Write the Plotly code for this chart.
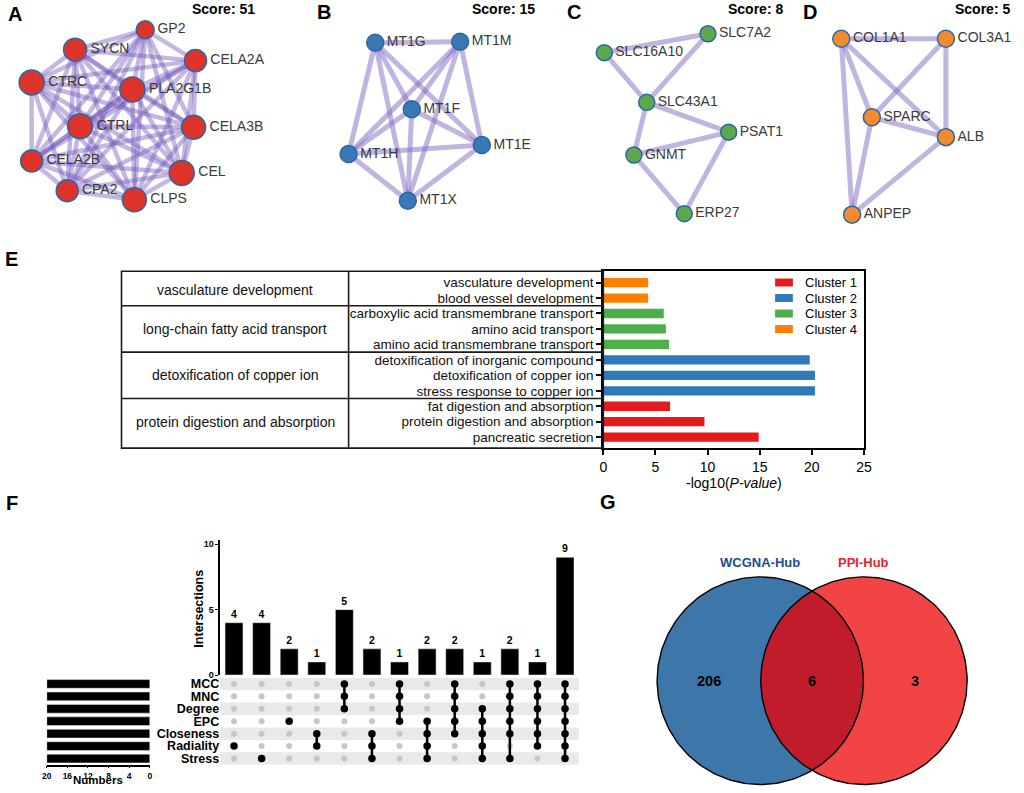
import itertools
import numpy as np
import plotly.graph_objects as go

W, H = 1024, 793
FONT = "Liberation Sans, Arial, Helvetica, sans-serif"


def px(x):
    return x / W


def py(y):
    return 1 - y / H


# ---------------- Panel A-D : PPI modules ----------------
A_genes = ["GP2", "SYCN", "CELA2A", "CTRC", "PLA2G1B", "CTRL", "CELA3B", "CELA2B", "CEL", "CPA2", "CLPS"]
A_x = [142, 71, 193, 27, 129, 76, 191, 27, 179, 63, 131]
A_y = [30, 50, 61, 83, 90, 127, 128, 162, 174, 192, 201]
A_size = [18, 23, 22, 25, 25, 25, 24, 22, 25, 22, 24]
A_edges = list(itertools.combinations(A_genes, 2))

B_genes = ["MT1G", "MT1M", "MT1F", "MT1E", "MT1H", "MT1X"]
B_x = [375, 461, 412, 483, 348, 408]
B_y = [43, 42, 110, 146, 155, 202]
B_size = [17] * 6
B_edges = list(itertools.combinations(B_genes, 2))

C_genes = ["SLC16A10", "SLC7A2", "SLC43A1", "PSAT1", "GNMT", "ERP27"]
C_x = [607, 712, 650, 733, 637, 688]
C_y = [53, 34, 103, 133, 156, 215]
C_size = [16] * 6
C_edges = [("SLC16A10", "SLC7A2"), ("SLC16A10", "SLC43A1"), ("SLC7A2", "SLC43A1"),
           ("SLC43A1", "PSAT1"), ("SLC43A1", "GNMT"), ("GNMT", "PSAT1"),
           ("GNMT", "ERP27"), ("PSAT1", "ERP27")]

D_genes = ["COL1A1", "COL3A1", "SPARC", "ALB", "ANPEP"]
D_x = [847, 953, 878, 953, 858]
D_y = [39, 39, 118, 138, 216]
D_size = [17] * 5
D_edges = [("COL1A1", "COL3A1"), ("COL1A1", "SPARC"), ("COL1A1", "ALB"), ("COL1A1", "ANPEP"),
           ("COL3A1", "SPARC"), ("COL3A1", "ALB"), ("SPARC", "ALB"), ("SPARC", "ANPEP"),
           ("ALB", "ANPEP")]

module_scores = [51, 15, 8, 5]
module_colors = ["#de3328", "#3a78b5", "#5ca84c", "#f28a2e"]

# ---------------- Panel E : enrichment ----------------
terms = ["vasculature development", "blood vessel development",
         "carboxylic acid transmembrane transport", "amino acid transport",
         "amino acid transmembrane transport", "detoxification of inorganic compound",
         "detoxification of copper ion", "stress response to copper ion",
         "fat digestion and absorption", "protein digestion and absorption",
         "pancreatic secretion"]
neglog10p = [4.3, 4.3, 5.8, 6.0, 6.3, 19.8, 20.3, 20.3, 6.4, 9.7, 14.9]
term_cluster = [4, 4, 3, 3, 3, 2, 2, 2, 1, 1, 1]
cluster_names = ["Cluster 1", "Cluster 2", "Cluster 3", "Cluster 4"]
cluster_terms = ["protein digestion and absorption", "detoxification of copper ion",
                 "long-chain fatty acid transport", "vasculature development"]
cluster_colors = ["#e41a1c", "#2f7ab8", "#4daf4a", "#ff7f00"]
x_ticks_E = [0, 5, 10, 15, 20, 25]

# ---------------- Panel F : UpSet ----------------
sets = ["MCC", "MNC", "Degree", "EPC", "Closeness", "Radiality", "Stress"]
set_sizes = [20, 20, 20, 20, 20, 20, 20]
inter_counts = [4, 4, 2, 1, 5, 2, 1, 2, 2, 1, 2, 1, 9]
inter_members = [
    ["Radiality"], ["Stress"], ["EPC"], ["Closeness", "Radiality"],
    ["MCC", "MNC", "Degree"], ["Closeness", "Radiality", "Stress"],
    ["MCC", "MNC", "Degree", "EPC"], ["EPC", "Closeness", "Radiality", "Stress"],
    ["MCC", "MNC", "Degree", "EPC", "Closeness"],
    ["Degree", "EPC", "Closeness", "Radiality", "Stress"],
    ["MCC", "MNC", "Degree", "EPC", "Closeness", "Stress"],
    ["MCC", "MNC", "Degree", "EPC", "Closeness", "Radiality"],
    ["MCC", "MNC", "Degree", "EPC", "Closeness", "Radiality", "Stress"],
]
inter_ticks = [0, 5, 10]
size_ticks = [20, 16, 12, 8, 4, 0]

# ---------------- Panel G : Venn ----------------
venn_names = ["WCGNA-Hub", "PPI-Hub"]
venn_name_colors = ["#1c4c94", "#e8232b"]
venn_only = [206, 3]
venn_both = 6

fig = go.Figure()

EDGE_A = "rgba(115, 85, 185, 0.42)"
EDGE_B = "rgba(130, 105, 195, 0.5)"
NODE_LINE = "#2a67a3"


def add_network(genes, xs, ys, sizes, edges, color, edge_color, edge_w):
    idx = {g: i for i, g in enumerate(genes)}
    for a, b in edges:
        i, j = idx[a], idx[b]
        fig.add_trace(go.Scatter(x=[xs[i], xs[j]], y=[ys[i], ys[j]], mode="lines",
                                 line=dict(color=edge_color, width=edge_w),
                                 hoverinfo="skip", showlegend=False, xaxis="x", yaxis="y"))
    fig.add_trace(go.Scatter(x=xs, y=ys, mode="markers+text", text=genes,
                             textposition="middle right",
                             textfont=dict(family=FONT, size=14, color="#3a3a3a"),
                             marker=dict(size=sizes, color=color, opacity=1,
                                         line=dict(color=NODE_LINE, width=1.5)),
                             hoverinfo="skip", showlegend=False, xaxis="x", yaxis="y"))


add_network(A_genes, A_x, A_y, A_size, A_edges, module_colors[0], EDGE_A, 4.5)
add_network(B_genes, B_x, B_y, B_size, B_edges, module_colors[1], EDGE_B, 5)
add_network(C_genes, C_x, C_y, C_size, C_edges, module_colors[2], EDGE_B, 5)
add_network(D_genes, D_x, D_y, D_size, D_edges, module_colors[3], EDGE_B, 5)

# ---- Panel E bars
cat_order = terms[::-1]
for c in range(1, 5):
    ys = [t for t, k in zip(terms, term_cluster) if k == c]
    xs = [v for v, k in zip(neglog10p, term_cluster) if k == c]
    fig.add_trace(go.Bar(x=xs, y=ys, orientation="h", width=0.6,
                         marker=dict(color=cluster_colors[c - 1], line=dict(width=0)),
                         name=cluster_names[c - 1], showlegend=False, hoverinfo="skip",
                         xaxis="x2", yaxis="y2"))

# ---- Panel F
col_idx = list(range(len(inter_counts)))
fig.add_trace(go.Bar(x=col_idx, y=inter_counts, width=0.65, marker=dict(color="black"),
                     texttemplate="<b>%{y}</b>", textposition="outside",
                     textfont=dict(family=FONT, size=10.5, color="black"), cliponaxis=False,
                     showlegend=False, hoverinfo="skip", xaxis="x3", yaxis="y3"))

set_pos = {s: i for i, s in enumerate(sets)}
gx, gy, bx, by = [], [], [], []
for k, mem in enumerate(inter_members):
    for s in sets:
        if s in mem:
            bx.append(k)
            by.append(set_pos[s])
        else:
            gx.append(k)
            gy.append(set_pos[s])
fig.add_trace(go.Scatter(x=gx, y=gy, mode="markers",
                         marker=dict(size=6, color="#c6c6c6", opacity=1),
                         hoverinfo="skip", showlegend=False, xaxis="x4", yaxis="y4"))
for k, mem in enumerate(inter_members):
    rows = sorted(set_pos[m] for m in mem)
    if len(rows) > 1:
        fig.add_trace(go.Scatter(x=[k, k], y=[rows[0], rows[-1]], mode="lines",
                                 line=dict(color="black", width=2.5), hoverinfo="skip",
                                 showlegend=False, xaxis="x4", yaxis="y4"))
fig.add_trace(go.Scatter(x=bx, y=by, mode="markers",
                         marker=dict(size=7.5, color="black", opacity=1),
                         hoverinfo="skip", showlegend=False, xaxis="x4", yaxis="y4"))

fig.add_trace(go.Bar(x=set_sizes, y=list(range(len(sets))), orientation="h", width=0.7,
                     marker=dict(color="black"), hoverinfo="skip", showlegend=False,
                     xaxis="x5", yaxis="y5"))

# ---- Panel G (Venn geometry in canvas pixel units)
c1 = (765.0, 685.0)
c2 = (870.0, 685.0)
R = 104.5
t = np.linspace(0, 2 * np.pi, 241)
for (cx, cy), col in zip([c1, c2], ["#3d77aa", "#f24444"]):
    fig.add_trace(go.Scatter(x=cx + R * np.cos(t), y=cy + R * np.sin(t), mode="lines",
                             fill="toself", fillcolor=col, line=dict(width=0, color=col),
                             hoverinfo="skip", showlegend=False, xaxis="x", yaxis="y"))
d = c2[0] - c1[0]
th0 = np.arccos((d / 2) / R)
ta = np.linspace(-th0, th0, 80)
tb = np.linspace(np.pi - th0, np.pi + th0, 80)
lens_x = np.concatenate([c1[0] + R * np.cos(ta), c2[0] + R * np.cos(tb)])
lens_y = np.concatenate([c1[1] + R * np.sin(ta), c2[1] + R * np.sin(tb)])
fig.add_trace(go.Scatter(x=lens_x, y=lens_y, mode="lines", fill="toself", fillcolor="#c11c2b",
                         line=dict(width=0, color="#c11c2b"), hoverinfo="skip",
                         showlegend=False, xaxis="x", yaxis="y"))
for (cx, cy) in [c1, c2]:
    fig.add_trace(go.Scatter(x=cx + R * np.cos(t), y=cy + R * np.sin(t), mode="lines",
                             line=dict(width=1.4, color="black"), hoverinfo="skip",
                             showlegend=False, xaxis="x", yaxis="y"))

annotations = []
shapes = []


def ann(x, y, text, size, xanchor="center", yanchor="middle", color="black", **kw):
    annotations.append(dict(x=px(x), y=py(y), xref="paper", yref="paper", text=text,
                            showarrow=False, xanchor=xanchor, yanchor=yanchor,
                            font=dict(family=FONT, size=size, color=color), **kw))


# panel letters
for letter, (lx, ly) in zip("ABCDEFG", [(10, 14), (323, 12), (576, 12), (815, 12),
                                       (7, 261), (7, 506), (611, 505)]):
    ann(lx, ly, f"<b>{letter}</b>", 20)

# scores
for sc, rx in zip(module_scores, [255, 539, 790, 1020]):
    ann(rx, 9, f"<b>Score: {sc}</b>", 14, xanchor="right")

# Panel E table
TL, TM, TR = 118, 348, 606
shapes.append(dict(type="rect", xref="paper", yref="y2 domain", x0=px(TL), x1=px(TR), y0=0, y1=1,
                   line=dict(color="#1a1a1a", width=1.6), layer="above"))
shapes.append(dict(type="line", xref="paper", yref="y2 domain", x0=px(TM), x1=px(TM), y0=0, y1=1,
                   line=dict(color="#1a1a1a", width=1.6), layer="above"))
clusters_in_order = [term_cluster[terms.index(c)] for c in cat_order]
for k in range(len(cat_order) - 1):
    if clusters_in_order[k] != clusters_in_order[k + 1]:
        shapes.append(dict(type="line", xref="paper", yref="y2", x0=px(TL), x1=px(TR),
                           y0=k + 0.5, y1=k + 0.5, line=dict(color="#1a1a1a", width=1.6),
                           layer="above"))
for c in range(1, 5):
    ids = [i for i, cc in enumerate(clusters_in_order) if cc == c]
    annotations.append(dict(x=px((TL + TM) / 2), y=float(np.mean(ids)), xref="paper", yref="y2",
                            text=cluster_terms[c - 1], showarrow=False, xanchor="center",
                            yanchor="middle", font=dict(family=FONT, size=14, color="#111")))

# Panel E legend
for i, (nm, col) in enumerate(zip(cluster_names, cluster_colors)):
    yy = 284.3 + i * 15.6
    shapes.append(dict(type="rect", xref="paper", yref="paper", x0=px(780), x1=px(798),
                       y0=py(yy + 4), y1=py(yy - 4), fillcolor=col, line=dict(width=0)))
    ann(808, yy, nm, 13, xanchor="left")

ann(738, 486, "-log10(<i>P-value</i>)", 14)

# Panel F labels
ann(197, 612, "<b>Intersections</b>", 12.5, textangle=-90)
ann(94, 793, "<b>Numbers</b>", 11.5, yanchor="bottom")
for i in range(len(sets)):
    if i % 2 == 0:
        shapes.append(dict(type="rect", xref="x4 domain", yref="y4", x0=0, x1=1,
                           y0=i - 0.5, y1=i + 0.5, fillcolor="#e9e9e9", line=dict(width=0),
                           layer="below"))

# Panel G labels
for (cx, cy), nm, col in zip([c1, c2], venn_names, venn_name_colors):
    ann(cx, cy - R - 14, f"<b>{nm}</b>", 13, color=col)
ann((c1[0] - R + c2[0] - R) / 2, c1[1], f"<b>{venn_only[0]}</b>", 14.5)
ann((c1[0] + c2[0]) / 2, c1[1], f"<b>{venn_both}</b>", 14.5)
ann((c1[0] + R + c2[0] + R) / 2, c1[1], f"<b>{venn_only[1]}</b>", 14.5)

fig.update_layout(
    width=W, height=H, autosize=False, margin=dict(l=0, r=0, t=0, b=0),
    paper_bgcolor="white", plot_bgcolor="rgba(0,0,0,0)", showlegend=False,
    barmode="overlay", font=dict(family=FONT, color="black"),
    annotations=annotations, shapes=shapes,
    xaxis=dict(domain=[0, 1], range=[0, W], visible=False, fixedrange=True),
    yaxis=dict(domain=[0, 1], range=[H, 0], visible=False, fixedrange=True),
    xaxis2=dict(domain=[px(606), px(870)], range=[0, 25], anchor="y2", showgrid=False,
                zeroline=False, showline=True, mirror=True, linewidth=2, linecolor="black",
                ticks="outside", ticklen=5, tickwidth=1.5, tickcolor="black",
                tickvals=x_ticks_E, tickfont=dict(family=FONT, size=14, color="black")),
    yaxis2=dict(domain=[py(451), py(273)], anchor="x2", type="category",
                categoryorder="array", categoryarray=cat_order, range=[-0.71, 10.73],
                tickmode="array", tickvals=cat_order, ticktext=cat_order,
                showgrid=False, zeroline=False, showline=True, mirror=True, linewidth=2,
                linecolor="black", ticks="outside", ticklen=5, tickwidth=1.5,
                tickcolor="black", tickfont=dict(family=FONT, size=13.5, color="#111")),
    xaxis3=dict(domain=[px(218), px(581.2)], range=[-0.5, 12.5], anchor="y3", visible=False),
    yaxis3=dict(domain=[py(679.3), py(543)], range=[0, 10.36], anchor="x3", showgrid=False,
                zeroline=False, showline=True, linewidth=1.5, linecolor="black",
                ticks="outside", ticklen=3, tickwidth=1.2, tickcolor="black",
                tickvals=inter_ticks, ticktext=[f"<b>{v}</b>" for v in inter_ticks],
                tickfont=dict(family=FONT, size=9, color="black")),
    xaxis4=dict(domain=[px(218), px(581.2)], range=[-0.5, 12.5], anchor="y4", visible=False),
    yaxis4=dict(domain=[py(769.6), py(682)], range=[6.5, -0.5], anchor="x4", showgrid=False,
                zeroline=False, showline=False, ticks="", tickvals=list(range(len(sets))),
                ticktext=[f"<b>{s}</b>" for s in sets],
                tickfont=dict(family=FONT, size=12.5, color="black")),
    xaxis5=dict(domain=[px(42.3), px(146.7)], range=[20, 0], anchor="y5", showgrid=False,
                zeroline=False, showline=True, linewidth=1.5, linecolor="black",
                ticks="outside", ticklen=2, tickwidth=1.2, tickcolor="black",
                tickvals=size_ticks, ticktext=[f"<b>{v}</b>" for v in size_ticks],
                tickfont=dict(family=FONT, size=8.5, color="black")),
    yaxis5=dict(domain=[py(769.6), py(682)], range=[6.5, -0.5], anchor="x5", visible=False),
)

fig.write_html("out.html",
               config={"displayModeBar": False},
               post_script="document.body.style.margin='0';"
                           "document.documentElement.style.overflow='hidden';")
